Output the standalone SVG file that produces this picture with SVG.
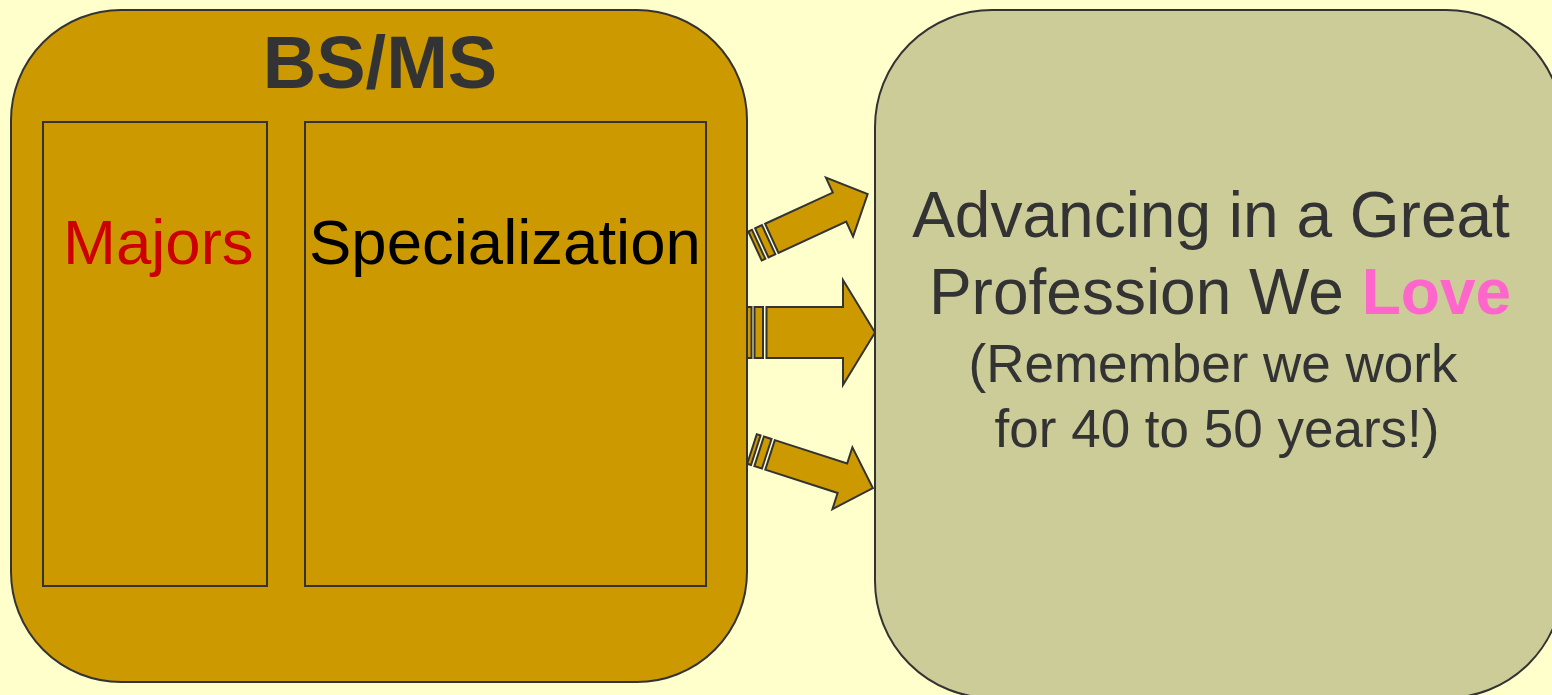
<svg xmlns="http://www.w3.org/2000/svg" width="1552" height="695" viewBox="0 0 1552 695">
<style>
.box{stroke:#333333;stroke-width:2}
.arr{fill:#cc9900;stroke:#333333;stroke-width:2;stroke-linejoin:miter}
text{font-family:"Liberation Sans",Arial,sans-serif}
</style>
<rect x="0" y="0" width="1552" height="695" fill="#ffffcc"/>
<g id="bsms">
<rect class="box" x="11" y="10" width="736" height="672" rx="110" ry="110" fill="#cc9900"/>
<text x="380" y="88" font-size="74" font-weight="bold" fill="#333333" text-anchor="middle">BS/MS</text>
</g>
<g id="majors">
<rect class="box" x="43" y="122" width="224" height="464" fill="none"/>
<text x="63" y="264" font-size="63.5" fill="#cc0000">Majors</text>
</g>
<g id="specialization">
<rect class="box" x="305" y="122" width="401" height="464" fill="none"/>
<text x="309" y="264" font-size="63.5" fill="#000000">Specialization</text>
</g>
<g id="profession">
<rect class="box" x="875" y="10" width="688" height="688" rx="117" ry="117" fill="#cccc99"/>
<text x="1211" y="237" font-size="64" fill="#333333" text-anchor="middle">Advancing in a Great</text>
<text x="1220" y="314" font-size="64" fill="#333333" text-anchor="middle">Profession We <tspan font-weight="bold" fill="#ff66cc">Love</tspan></text>
<text x="1213" y="382" font-size="53" fill="#333333" text-anchor="middle">(Remember we work</text>
<text x="1217" y="447" font-size="53" fill="#333333" text-anchor="middle">for 40 to 50 years!)</text>
</g>
<g id="connectors">
<g transform="translate(755,246) rotate(-24.7)">
<rect class="arr" x="0" y="-16" width="4" height="32"/>
<rect class="arr" x="7.5" y="-16" width="7.5" height="32"/>
<polygon class="arr" points="18.5,-16 93,-16 93,-32.5 124,0 93,32.5 93,16 18.5,16"/>
</g>
<g transform="translate(747,332.5)">
<rect class="arr" x="0" y="-25.5" width="4.5" height="51"/>
<rect class="arr" x="7.5" y="-25.5" width="8.5" height="51"/>
<polygon class="arr" points="19.5,-25.5 96,-25.5 96,-52.5 128,0 96,52.5 96,25.5 19.5,25.5"/>
</g>
<g transform="translate(752,449) rotate(17.9)">
<rect class="arr" x="0" y="-15.5" width="4" height="31"/>
<rect class="arr" x="7.5" y="-15.5" width="8" height="31"/>
<polygon class="arr" points="19,-15.5 95,-15.5 95,-32.5 127,0 95,32.5 95,15.5 19,15.5"/>
</g>
</g>
</svg>
